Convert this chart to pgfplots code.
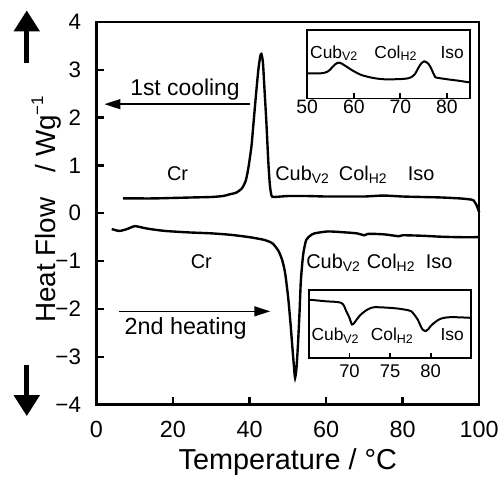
\documentclass[border=0pt]{standalone}
\usepackage{pgfplots}
\pgfplotsset{compat=1.18}
\usepackage{fontspec}
\setmainfont{Liberation Sans}
\usetikzlibrary{arrows.meta}
\newcommand{\fs}[1]{\fontsize{#1}{#1}\selectfont}
\newcommand{\sub}[1]{\raisebox{-0.28ex}{\fs{14}#1}}
\newcommand{\subs}[1]{\raisebox{-0.28ex}{\fs{12.5}#1}}
\begin{document}
\begin{tikzpicture}
\begin{axis}[name=main,
  scale only axis, width=385pt, height=385pt,
  xmin=0, xmax=100, ymin=-4, ymax=4,
  clip=false,
  axis line style={line width=2.6pt},
  every tick/.style={black, line width=2.4pt},
  major tick length=8pt, tick align=inside,
  xtick pos=bottom, ytick pos=left,
  xtick={0,20,40,60,80,100},
  xticklabels={0,20,40,60,80,100},
  ytick={-4,-3,-2,-1,0,1,2,3,4},
  yticklabels={−4,−3,−2,−1,0,1,2,3,4},
  xticklabel style={font=\fs{23.5}, yshift=-13pt},
  yticklabel style={font=\fs{22.5}, xshift=-12pt},
]
% 1st cooling
\addplot[black, line width=2.4pt, smooth, tension=0.4] coordinates {
(7,0.31) (10,0.31) (15,0.31) (20,0.32) (25,0.33) (30,0.34) (33,0.36) (35,0.40)
(36.5,0.43) (38,0.52) (39,0.68) (39.7,0.95) (40.5,1.4) (41,1.85) (41.6,2.4)
(42.3,3.0) (42.8,3.28) (43.1,3.33) (43.5,3.15) (43.9,2.6) (44.4,1.9) (44.9,1.08)
(45.3,0.6) (45.7,0.38) (46.3,0.34) (50,0.36) (55,0.36) (60,0.35) (65,0.35)
(70,0.35) (75,0.37) (80,0.35) (85,0.34) (90,0.33) (95,0.31) (97.5,0.29)
(98.5,0.27) (99.3,0.17) (100,0.02)};
% 2nd heating
\addplot[black, line width=2.4pt, smooth, tension=0.4] coordinates {
(4,-0.33) (6,-0.37) (8,-0.33) (10,-0.27) (12,-0.3) (14,-0.33) (18,-0.37)
(24,-0.40) (30,-0.42) (35,-0.45) (40,-0.5) (44,-0.56) (46,-0.63) (47.5,-0.78)
(48.5,-0.97) (49.3,-1.25) (50.1,-1.77) (50.7,-2.3) (51.2,-2.81) (51.6,-3.2)
(51.9,-3.44) (52.3,-3.2) (52.7,-2.67) (53.1,-2.0) (53.4,-1.42) (54,-0.87)
(54.8,-0.56) (56,-0.46) (57,-0.42) (60.5,-0.38) (65,-0.40) (68,-0.42)
(70,-0.46) (71,-0.43) (75,-0.44) (79,-0.48) (80,-0.46) (85,-0.47) (90,-0.49)
(95,-0.5) (100,-0.5)};
% annotations
\draw[line width=1.5pt, -{Triangle[length=16pt,width=10pt]}] (axis cs:40.2,2.28) -- (axis cs:2.1,2.28);
\node[anchor=base west, font=\fs{23}, inner sep=0pt] at (axis cs:8.8,2.46) {1st cooling};
\draw[line width=1.5pt, -{Triangle[length=16pt,width=10pt]}] (axis cs:6.0,-2.05) -- (axis cs:45.4,-2.05);
\node[anchor=base west, font=\fs{23.5}, inner sep=0pt] at (axis cs:7.3,-2.53) {2nd heating};
\node[anchor=base, font=\fs{20}, inner sep=0pt] at (axis cs:21.2,0.68) {Cr};
\node[anchor=base west, font=\fs{20}, inner sep=0pt] at (axis cs:46.7,0.68) {Cub\sub{V2}};
\node[anchor=base west, font=\fs{20}, inner sep=0pt] at (axis cs:63.3,0.68) {Col\sub{H2}};
\node[anchor=base west, font=\fs{20}, inner sep=0pt] at (axis cs:81.3,0.68) {Iso};
\node[anchor=base, font=\fs{20}, inner sep=0pt] at (axis cs:27.4,-1.15) {Cr};
\node[anchor=base west, font=\fs{20}, inner sep=0pt] at (axis cs:54.8,-1.15) {Cub\sub{V2}};
\node[anchor=base west, font=\fs{20}, inner sep=0pt] at (axis cs:70.6,-1.15) {Col\sub{H2}};
\node[anchor=base west, font=\fs{20}, inner sep=0pt] at (axis cs:86.0,-1.15) {Iso};
% big direction arrows
\draw[line width=5pt, -{Triangle[length=21pt,width=25pt]}] (axis cs:-18.2,3.15) -- (axis cs:-18.2,4.24);
\draw[line width=5pt, -{Triangle[length=21pt,width=25pt]}] (axis cs:-18.2,-3.17) -- (axis cs:-18.2,-4.24);
% axis labels
\node[anchor=base, font=\fs{29}, inner sep=0pt] at ([yshift=-65pt]axis description cs:0.5,0) {Temperature / °C};
\node[anchor=base, rotate=90, font=\fs{28}, inner sep=0pt] at ([xshift=-41pt, yshift=4pt]axis description cs:0,0.5) {Heat Flow\hspace{0.9em}/ Wg\raisebox{0.85ex}{\fs{17}−1}};
\end{axis}

% top inset (cooling)
\begin{axis}[at={(main.south west)}, anchor=south west, xshift=212pt, yshift=308pt,
  scale only axis, width=164pt, height=68.6pt,
  xmin=50, xmax=85, ymin=-99.3, ymax=-30.7,
  axis line style={line width=1.8pt},
  every tick/.style={black, line width=1.8pt},
  major tick length=5pt, tick align=inside,
  xtick pos=bottom, ytick=\empty,
  xtick={50,60,70,80}, xticklabels={50,60,70,80},
  xticklabel style={font=\fs{19.5}, inner sep=0pt, yshift=-1pt},
  clip=false]
\addplot[black, line width=2pt, smooth, tension=0.5] coordinates {
(50,-74) (53,-74) (54.5,-72) (56,-65) (56.9,-63.3) (58,-66) (59.9,-71.7)
(61.5,-75.5) (62.8,-77.3) (64.5,-79) (66.4,-80) (69,-80) (71.4,-79.3)
(72.5,-77.5) (73.1,-75) (73.7,-70) (74.1,-66.7) (74.6,-63.5) (75.1,-62)
(75.6,-62.8) (76.1,-65) (76.6,-69) (77,-73.3) (77.4,-77) (77.7,-78.3)
(80,-80) (82.5,-81.5) (85,-83.3)};
\node[anchor=base west, font=\fs{17.5}, inner sep=0pt] at (axis cs:50.6,-59) {Cub\subs{V2}};
\node[anchor=base west, font=\fs{17.5}, inner sep=0pt] at (axis cs:64.4,-59) {Col\subs{H2}};
\node[anchor=base west, font=\fs{17.5}, inner sep=0pt] at (axis cs:78.6,-59) {Iso};
\end{axis}

% bottom inset (heating)
\begin{axis}[at={(main.south west)}, anchor=south west, xshift=213.7pt, yshift=47.3pt,
  scale only axis, width=163.3pt, height=68.3pt,
  xmin=65, xmax=85, ymin=-360, ymax=-291.7,
  axis line style={line width=1.8pt},
  every tick/.style={black, line width=1.8pt},
  major tick length=5pt, tick align=inside,
  xtick pos=bottom, ytick=\empty,
  xtick={70,75,80}, xticklabels={70,75,80},
  xticklabel style={font=\fs{18.5}, inner sep=0pt, yshift=-7pt},
  clip=false]
\addplot[black, line width=2pt, smooth, tension=0.5] coordinates {
(65,-301.7) (67,-303.3) (69,-305) (69.6,-313.3) (70,-320) (70.3,-326.7)
(70.6,-325) (70.8,-322.7) (71.3,-317.5) (71.9,-313.3) (72.5,-310.5)
(73.1,-309.3) (74.5,-309.7) (76,-310.7) (77.2,-312.3) (77.6,-313.3) (78,-317)
(78.4,-321.7) (78.7,-327) (79.0,-331.7) (79.4,-333.3) (79.7,-331.5) (80,-328.3)
(80.6,-324) (81.3,-320.7) (82.5,-319.3) (85,-320)};
\node[anchor=base west, font=\fs{17.5}, inner sep=0pt] at (axis cs:65.3,-343) {Cub\subs{V2}};
\node[anchor=base west, font=\fs{17.5}, inner sep=0pt] at (axis cs:72.6,-343) {Col\subs{H2}};
\node[anchor=base west, font=\fs{17.5}, inner sep=0pt] at (axis cs:81.2,-343) {Iso};
\end{axis}

\path ([shift={(-97pt,-73pt)}]main.south west) rectangle ([shift={(405pt,407pt)}]main.south west);
\end{tikzpicture}
\end{document}
